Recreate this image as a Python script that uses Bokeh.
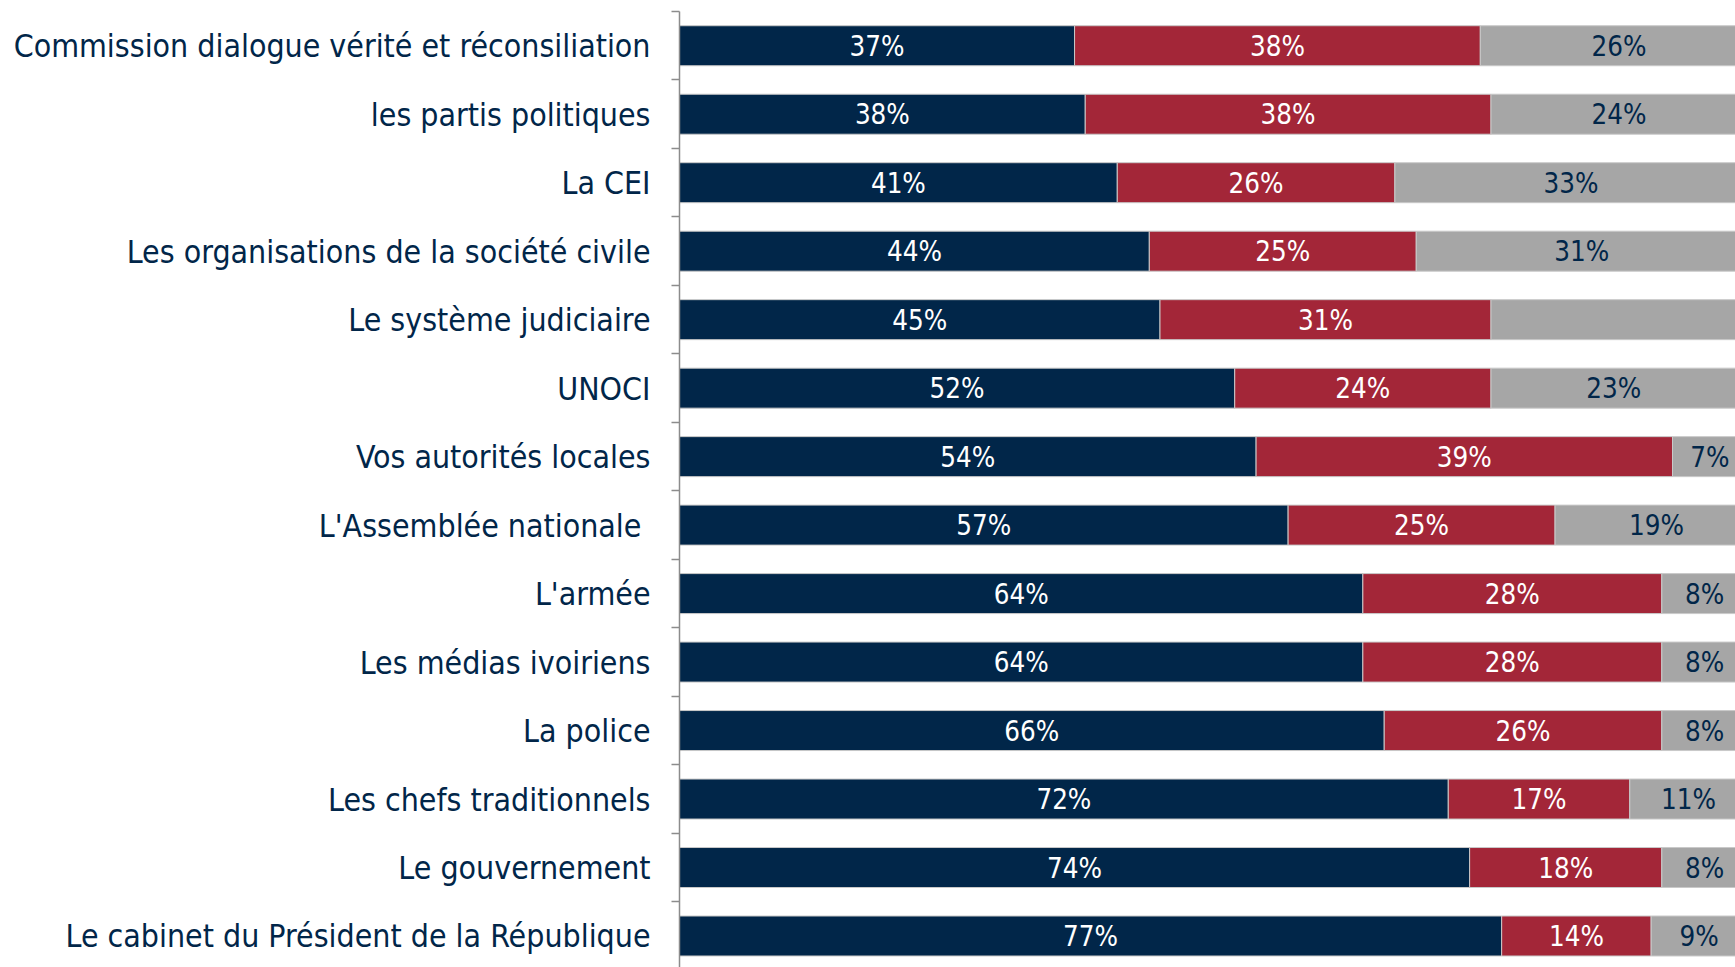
from bokeh.plotting import figure
from bokeh.models import Range1d, FixedTicker, ColumnDataSource
from bokeh.core.properties import value
from bokeh.embed import file_html
from bokeh.resources import INLINE

categories = [
    "Commission dialogue vérité et réconsiliation",
    "les partis politiques",
    "La CEI",
    "Les organisations de la société civile",
    "Le système judiciaire",
    "UNOCI",
    "Vos autorités locales",
    "L'Assemblée nationale ",
    "L'armée",
    "Les médias ivoiriens",
    "La police",
    "Les chefs traditionnels",
    "Le gouvernement",
    "Le cabinet du Président de la République",
]
confiance = [37, 38, 41, 44, 45, 52, 54, 57, 64, 64, 66, 72, 74, 77]
pas_confiance = [38, 38, 26, 25, 31, 24, 39, 25, 28, 28, 26, 17, 18, 14]
nsp = [26, 24, 33, 31, 24, 23, 7, 19, 8, 8, 8, 11, 8, 9]
nsp_labels = ["26%", "24%", "33%", "31%", "", "23%", "7%", "19%", "8%", "8%", "8%", "11%", "8%", "9%"]

NAVY = "#012649"
RED = "#A32638"
GRAY = "#A6A6A6"
FONT = "DejaVu Sans Condensed, DejaVu Sans"

idx = list(range(len(categories)))
l1 = [0] * len(idx)
r1 = confiance
l2 = r1
r2 = [a + b for a, b in zip(confiance, pas_confiance)]
l3 = r2
r3 = [a + b for a, b in zip(r2, nsp)]

src = ColumnDataSource(dict(
    y=idx, l1=l1, r1=r1, l2=l2, r2=r2, l3=l3, r3=r3,
    m1=[(a + b) / 2 for a, b in zip(l1, r1)],
    m2=[(a + b) / 2 for a, b in zip(l2, r2)],
    m3=[(a + b) / 2 for a, b in zip(l3, r3)],
    t1=[f"{v}%" for v in confiance],
    t2=[f"{v}%" for v in pas_confiance],
    t3=nsp_labels,
))

p = figure(width=1735, height=967, output_backend="svg", toolbar_location=None,
           x_range=Range1d(0, 98.9), y_range=Range1d(13.46, -0.5),
           x_axis_location=None, min_border_left=679, min_border_top=11,
           min_border_bottom=0, min_border_right=0)
p.outline_line_color = None
p.grid.visible = False
p.background_fill_color = "white"

bh = 0.584
edge = dict(line_color="#C9C9C9", line_width=1)
p.hbar(y="y", left="l1", right="r1", height=bh, fill_color=NAVY, source=src, **edge)
p.hbar(y="y", left="l2", right="r2", height=bh, fill_color=RED, source=src, **edge)
p.hbar(y="y", left="l3", right="r3", height=bh, fill_color=GRAY, source=src, **edge)

vfs = "27.5px"
common = dict(y="y", text_align="center", text_baseline="middle",
              text_font=value(FONT), text_font_size=vfs, source=src)
p.text(x="m1", text="t1", text_color="white", **common)
p.text(x="m2", text="t2", text_color="white", **common)
p.text(x="m3", text="t3", text_color=NAVY, **common)

ax = p.yaxis[0]
ax.ticker = FixedTicker(ticks=idx, minor_ticks=[i - 0.5 for i in range(len(idx) + 1)])
ax.major_label_overrides = {i: c for i, c in zip(idx, categories)}
ax.major_tick_line_color = None
ax.major_tick_out = 0
ax.major_tick_in = 0
ax.minor_tick_out = 8
ax.minor_tick_in = 0
ax.minor_tick_line_color = "#8C8C8C"
ax.minor_tick_line_width = 1.5
ax.axis_line_color = "#8C8C8C"
ax.axis_line_width = 1.5
ax.major_label_standoff = 21
ax.major_label_text_font = FONT
ax.major_label_text_font_size = "31.8px"
ax.major_label_text_color = NAVY

open("out.html", "w").write(file_html(p, INLINE))
